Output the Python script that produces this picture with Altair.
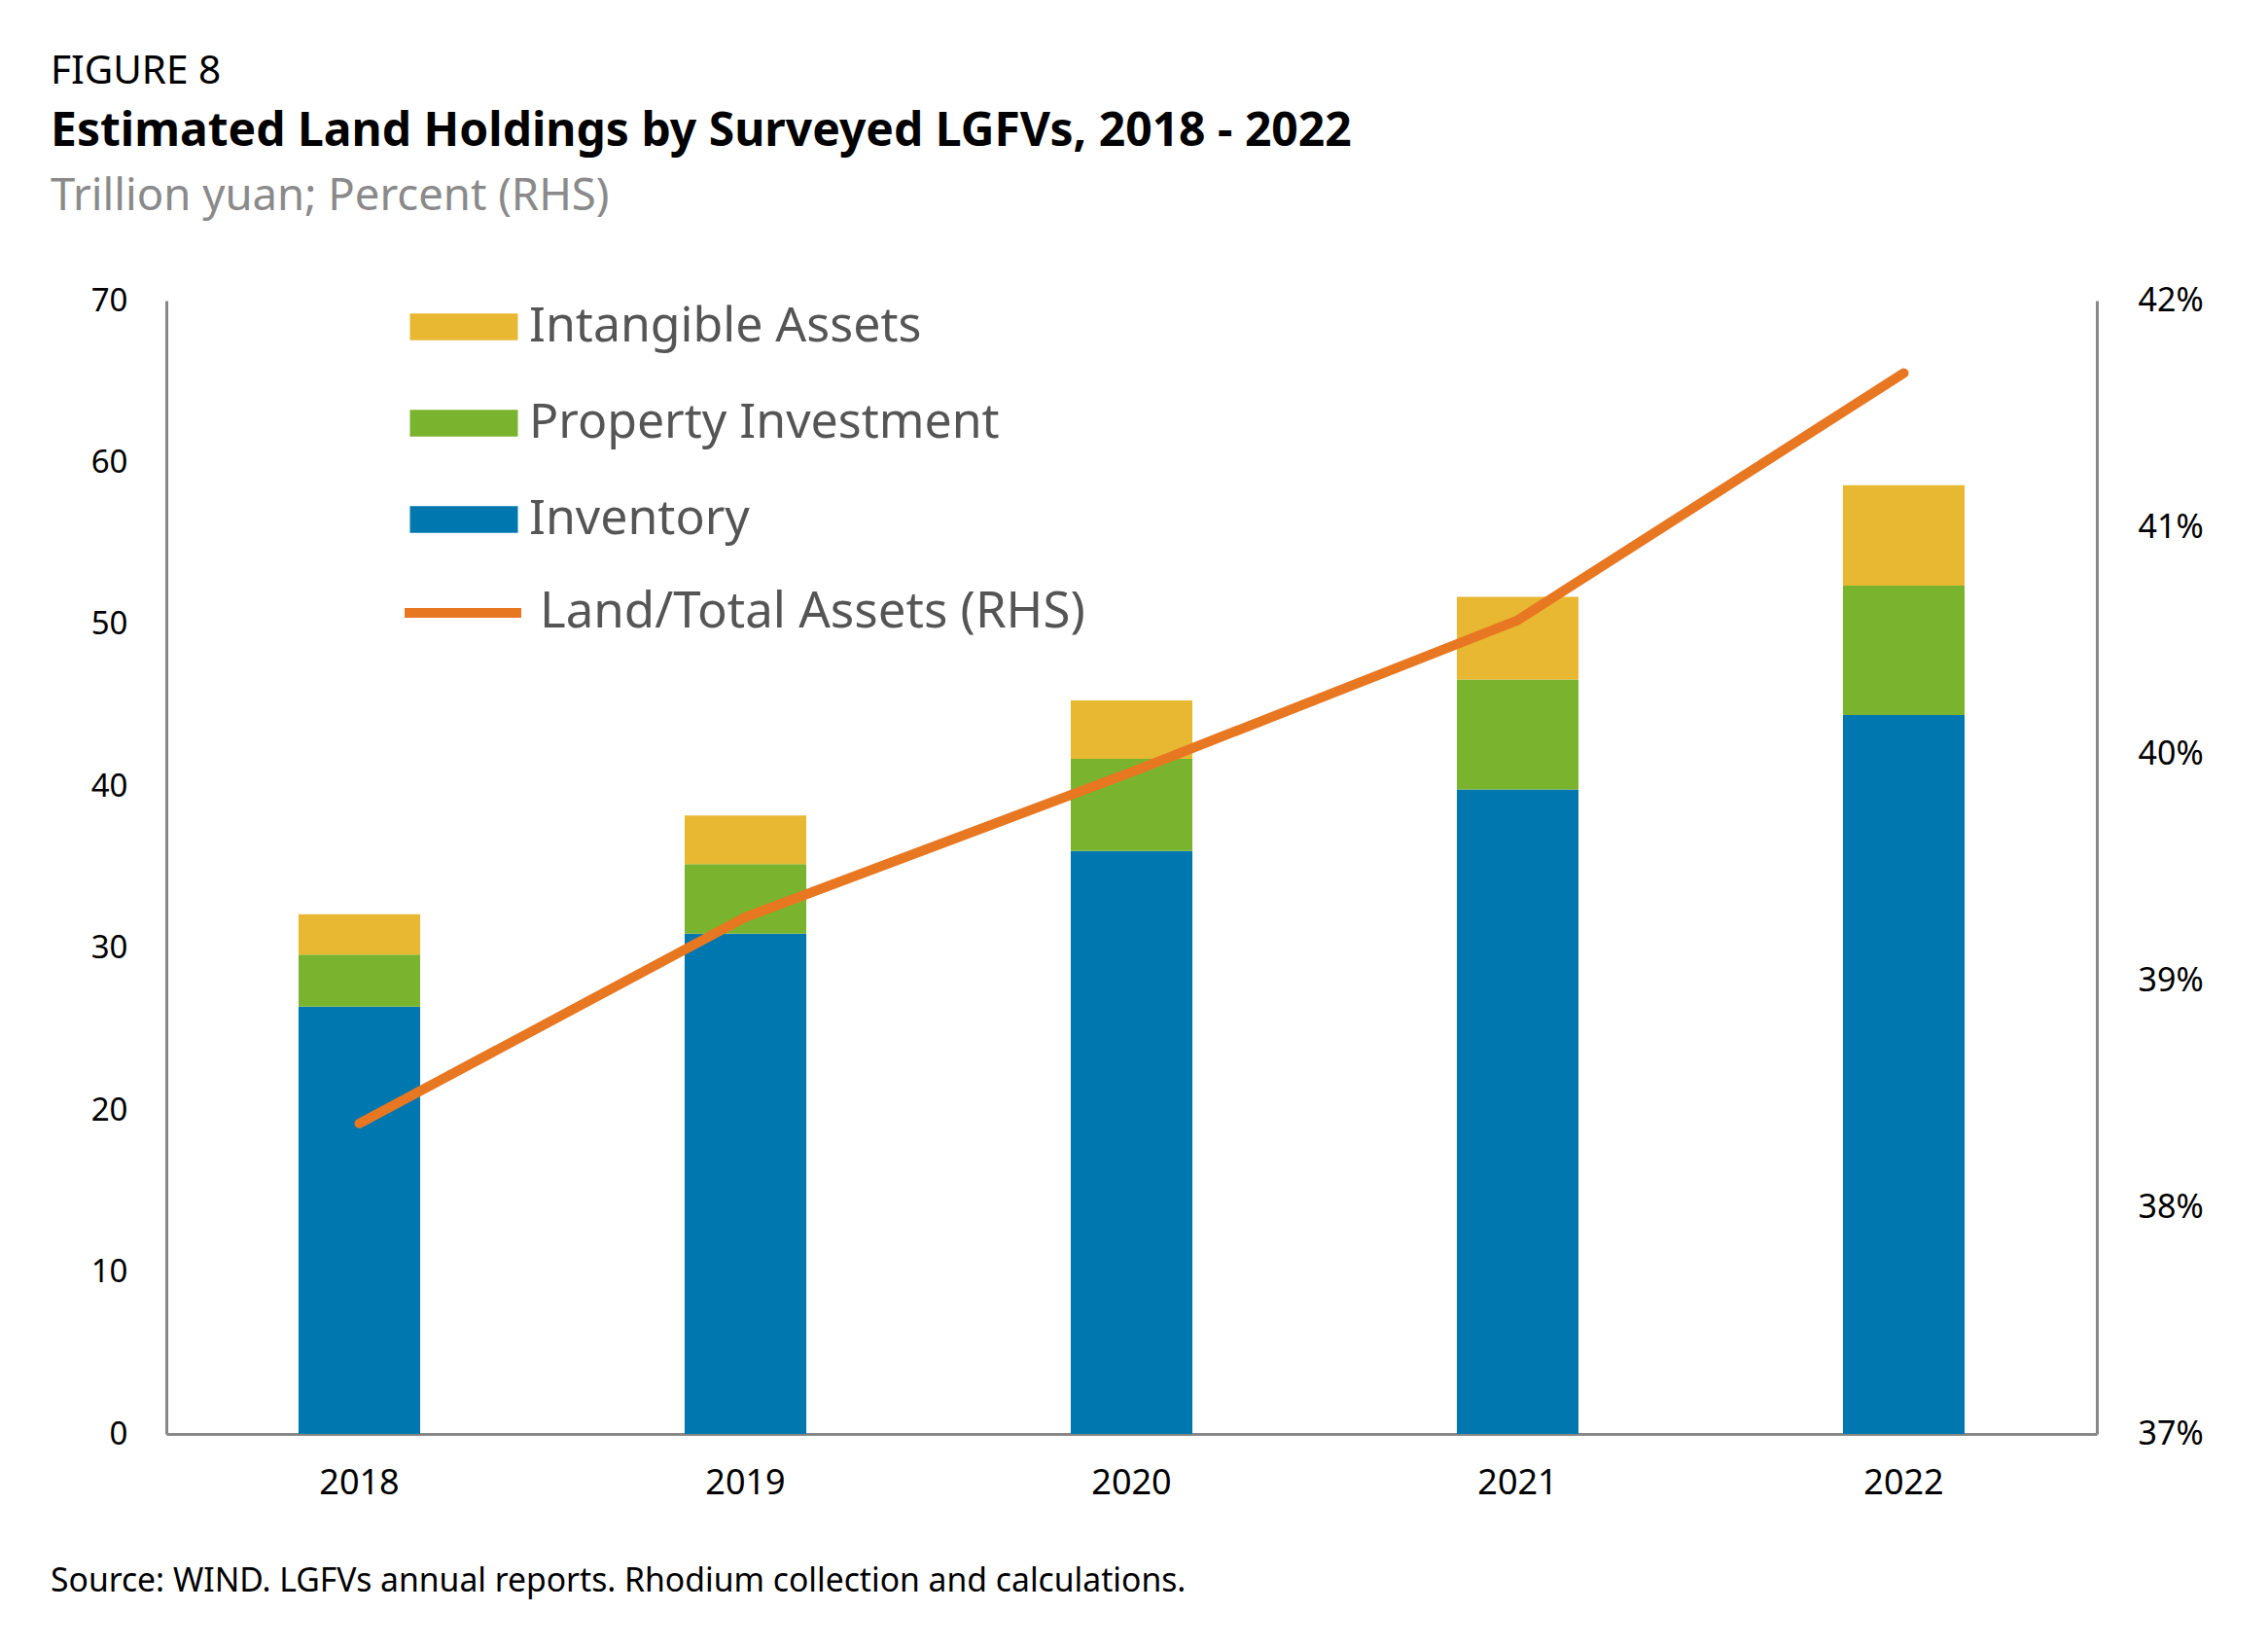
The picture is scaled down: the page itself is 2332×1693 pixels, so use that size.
import altair as alt
import pandas as pd

# ---------------- data ----------------
years = ["2018", "2019", "2020", "2021", "2022"]
inventory = [26.4, 30.9, 36.0, 39.8, 44.4]
property_investment = [3.2, 4.3, 5.7, 6.8, 8.0]
intangible_assets = [2.5, 3.0, 3.6, 5.1, 6.2]
land_share = [0.3837, 0.3928, 0.3992, 0.4059, 0.4168]

series_names = ["Intangible Assets", "Property Investment", "Inventory"]
series_colors = ["#E8B833", "#7AB42F", "#0077AE"]
line_name = "Land/Total Assets (RHS)"
line_color = "#E87722"

left_ticks = [0, 10, 20, 30, 40, 50, 60, 70]
right_ticks = [0.37, 0.38, 0.39, 0.40, 0.41, 0.42]

fig_label = "FIGURE 8"
title_text = "Estimated Land Holdings by Surveyed LGFVs, 2018 - 2022"
subtitle_text = "Trillion yuan; Percent (RHS)"
source_text = "Source: WIND. LGFVs annual reports. Rhodium collection and calculations."

# ---------------- tables ----------------
rows = []
for i, yr in enumerate(years):
    rows.append({"year": yr, "series": "Inventory", "value": inventory[i], "ord": 0})
    rows.append({"year": yr, "series": "Property Investment", "value": property_investment[i], "ord": 1})
    rows.append({"year": yr, "series": "Intangible Assets", "value": intangible_assets[i], "ord": 2})
bars_df = pd.DataFrame(rows)
line_df = pd.DataFrame({"year": years, "share": land_share, "series": [line_name] * len(years)})

FONT = "Noto Sans"
W, H = 1985, 1165
AXIS_GRAY = "#888888"

x_enc = alt.X(
    "year:O",
    scale=alt.Scale(paddingInner=0.685, paddingOuter=0.3425),
    axis=alt.Axis(title=None, labelAngle=0, labelFontSize=36, labelPadding=33,
                  ticks=False, domainColor=AXIS_GRAY, domainWidth=3,
                  labelColor="#000000", labelFont=FONT),
)

bars = alt.Chart(bars_df).mark_bar().encode(
    x=x_enc,
    y=alt.Y("value:Q", stack="zero",
            scale=alt.Scale(domain=[0, 70], nice=False),
            axis=alt.Axis(values=left_ticks, title=None, ticks=False, grid=False,
                          domainColor=AXIS_GRAY, domainWidth=3, labelPadding=40,
                          labelFontSize=33, labelColor="#000000", labelFont=FONT)),
    color=alt.Color("series:N",
                    scale=alt.Scale(domain=series_names, range=series_colors),
                    legend=alt.Legend(title=None, orient="none", legendX=278, legendY=-1,
                                      direction="vertical", padding=0,
                                      symbolType="M-2,-0.5H2V0.5H-2Z", symbolSize=3080,
                                      symbolStrokeWidth=0, symbolOpacity=1,
                                      labelFontSize=50, labelColor="#555555", labelFont=FONT,
                                      labelOffset=39, rowPadding=46, labelLimit=2000)),
    order=alt.Order("ord:Q", sort="ascending"),
)

line = alt.Chart(line_df).mark_line(strokeWidth=10, strokeCap="round", strokeJoin="round").encode(
    x=x_enc,
    y=alt.Y("share:Q",
            scale=alt.Scale(domain=[0.37, 0.42], nice=False, zero=False),
            axis=alt.Axis(orient="right", values=right_ticks, format=".0%", title=None,
                          ticks=False, grid=False, domainColor=AXIS_GRAY, domainWidth=3,
                          labelPadding=42, labelFontSize=34, labelColor="#000000",
                          labelFont=FONT)),
    stroke=alt.Stroke("series:N",
                      scale=alt.Scale(domain=[line_name], range=[line_color]),
                      legend=alt.Legend(title=None, orient="none", legendX=240, legendY=256,
                                        padding=0, symbolType="stroke", symbolSize=14400,
                                        symbolStrokeWidth=10, labelFontSize=51,
                                        labelColor="#555555", labelFont=FONT,
                                        labelOffset=14, labelLimit=2000)),
)


def text_layer(txt, xv, yv, size, weight, color):
    return alt.Chart(pd.DataFrame({"t": [txt]})).mark_text(
        align="left", baseline="alphabetic", fontSize=size, fontWeight=weight,
        color=color, font=FONT
    ).encode(text="t:N", x=alt.value(xv), y=alt.value(yv))


texts = [
    text_layer(fig_label, -119, -223, 40.5, "normal", "#000000"),
    text_layer(title_text, -119, -159, 48, "bold", "#000000"),
    text_layer(subtitle_text, -119, -93, 45.5, "normal", "#8a8a8a"),
    text_layer(source_text, -119, 1327, 33.7, "normal", "#000000"),
]

chart = alt.layer(bars, line, *texts).resolve_scale(y="independent").properties(
    width=W, height=H,
    padding={"left": 171, "top": 309, "right": 176, "bottom": 219},
    autosize=alt.AutoSizeParams(type="none"),
    background="white",
).configure_view(stroke=None)

chart.save("out.html", embed_options={"renderer": "svg", "actions": False})
